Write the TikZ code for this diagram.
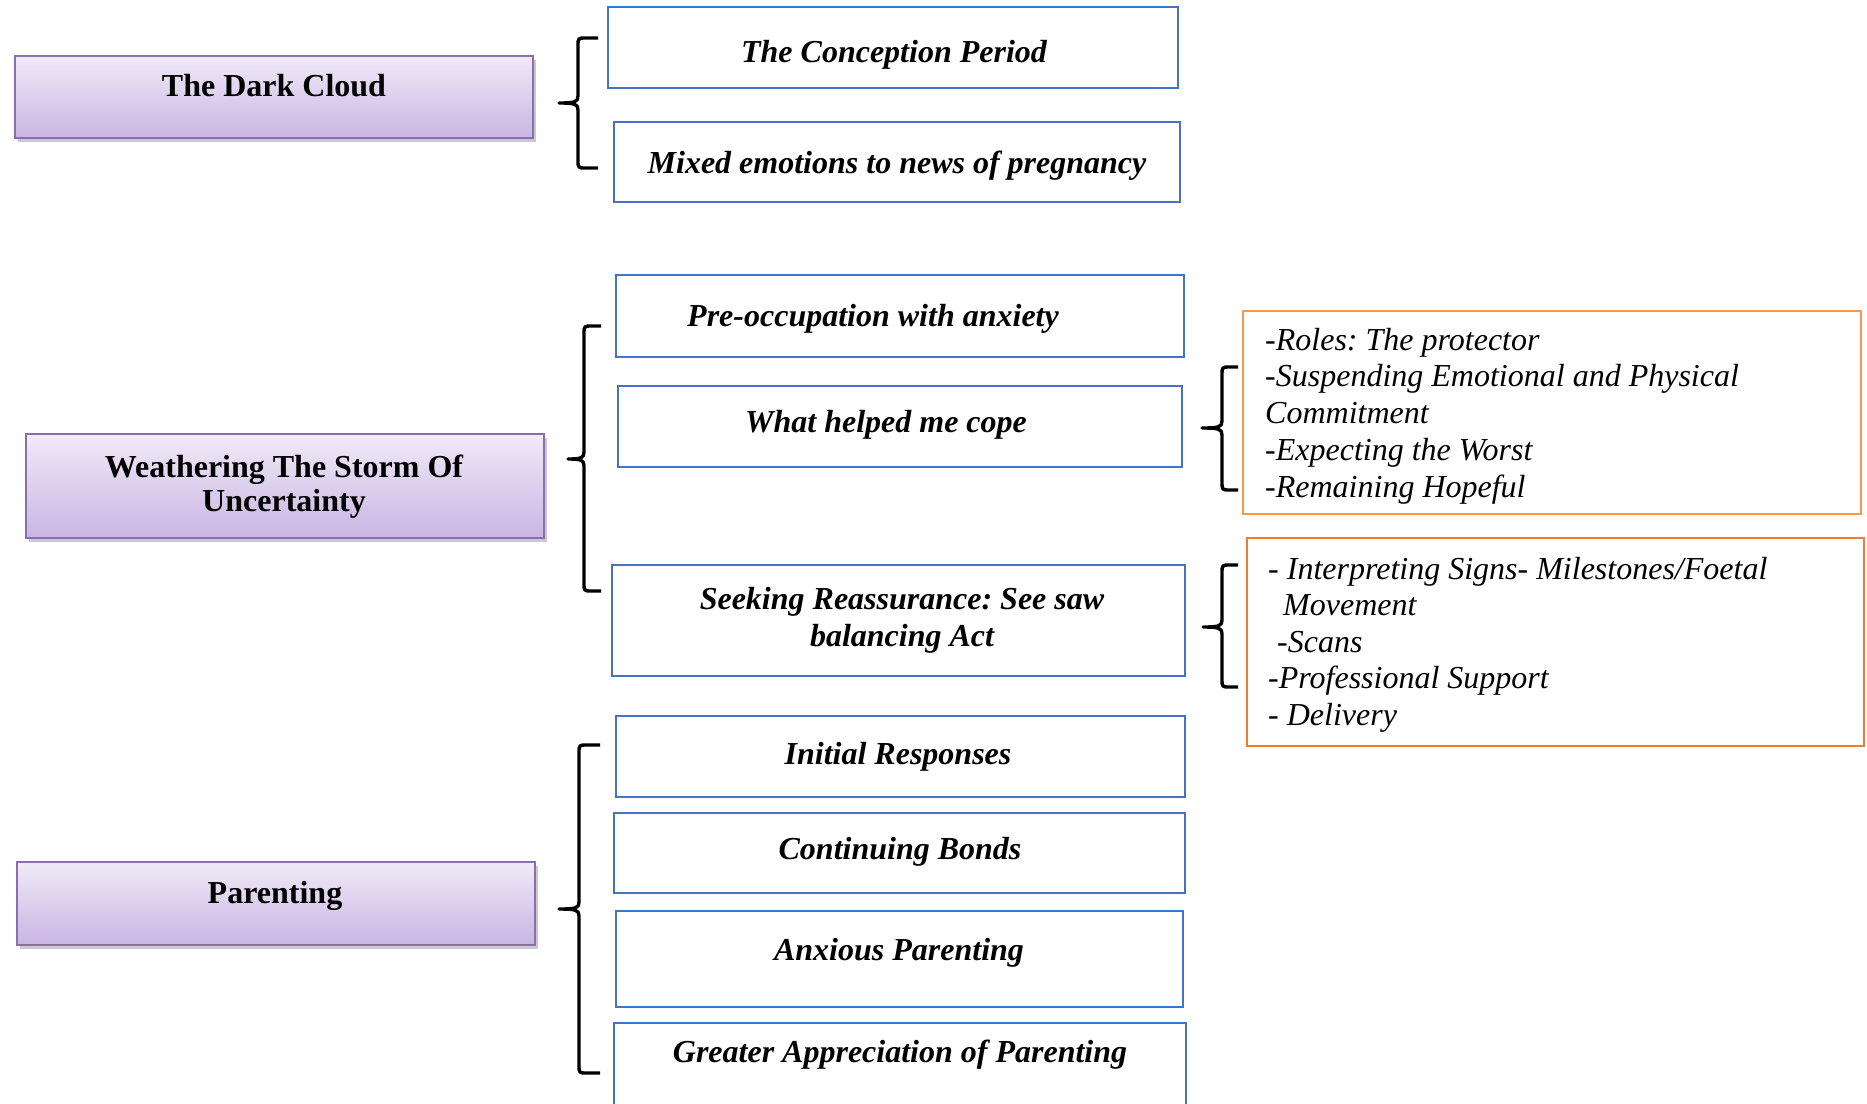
\documentclass[tikz,border=0pt]{standalone}
\usepackage{fontspec}
\setmainfont{Liberation Serif}
\frenchspacing
\usetikzlibrary{shadows}
\definecolor{bluebd}{HTML}{4472C4}
\definecolor{orangeA}{HTML}{F59C4C}
\definecolor{orangeB}{HTML}{ED7D31}
\definecolor{purpbd}{HTML}{8B6DB0}
\definecolor{purptop}{HTML}{F0EAF8}
\definecolor{purpbot}{HTML}{C9B5E3}
\tikzset{
  pbox/.style={draw=purpbd, line width=1.6pt, top color=purptop, bottom color=purpbot,
    drop shadow={shadow xshift=3pt, shadow yshift=-4pt, opacity=0.35, fill=black!60},
    inner sep=0pt, minimum width=518pt},
  bbox/.style={draw=bluebd, line width=2.6pt, fill=white, inner sep=0pt},
  obox/.style={line width=2.2pt, fill=white, inner sep=0pt},
  ptext/.style={font=\fontsize{32}{34}\selectfont\bfseries, align=center, inner sep=0pt, anchor=base},
  btext/.style={font=\fontsize{32}{37}\selectfont\bfseries\itshape, align=center, inner sep=0pt, anchor=base},
  otext/.style={font=\fontsize{32}{37}\selectfont\itshape, inner sep=0pt, anchor=base west},
  bracestyle/.style={line width=3.4pt, black, line cap=butt, line join=round}
}
\newcommand{\drawbrace}[6]{%
  \draw[bracestyle] (#1,#4) -- ({#2+8},#4) .. controls (#2,#4) .. (#2,{#4+8})
    -- (#2,{#5-7}) .. controls (#2,{#5-1}) and ({#2-3},#5) .. (#3,#5)
    .. controls ({#2-3},#5) and (#2,{#5+1}) .. (#2,{#5+7})
    -- (#2,{#6-8}) .. controls (#2,#6) .. ({#2+8},#6) -- (#1,#6);}
\begin{document}
\begin{tikzpicture}[x=1pt,y=-1pt]
\useasboundingbox (0,0) rectangle (1867,1103);
% purple theme boxes
\node[pbox, minimum height=82pt] (p1) at (274,97) {};
\node[ptext] (p1t) at (274,96) {The Dark Cloud};
\node[pbox, minimum height=104pt] (p2) at (285,486) {};
\node[ptext] (p2t) at (284,511) {Weathering The Storm Of\\Uncertainty};
\node[pbox, minimum height=83pt] (p3) at (276,903.5) {};
\node[ptext] (p3t) at (275,903) {Parenting};
% blue subtheme boxes
\node[bbox, minimum width=570pt, minimum height=81pt] (b1) at (893,47.5) {};
\node[btext] (b1t) at (894,62) {The Conception Period};
\node[bbox, minimum width=566pt, minimum height=80pt] (b2) at (897,162) {};
\node[btext] (b2t) at (897,173) {Mixed emotions to news of pregnancy};
\node[bbox, minimum width=568pt, minimum height=82pt] (b3) at (900,316) {};
\node[btext] (b3t) at (873,326) {Pre-occupation with anxiety};
\node[bbox, minimum width=564pt, minimum height=81pt] (b4) at (900,426.5) {};
\node[btext] (b4t) at (886,432) {What helped me cope};
\node[bbox, minimum width=573pt, minimum height=111pt] (b5) at (898.5,620.5) {};
\node[btext] (b5t) at (902,646) {Seeking Reassurance: See saw\\balancing Act};
\node[bbox, minimum width=569pt, minimum height=81pt] (b6) at (900.5,756.5) {};
\node[btext] (b6t) at (898,764) {Initial Responses};
\node[bbox, minimum width=571pt, minimum height=80pt] (b7) at (899.5,853) {};
\node[btext] (b7t) at (900,859) {Continuing Bonds};
\node[bbox, minimum width=567pt, minimum height=96pt] (b8) at (899.5,959) {};
\node[btext] (b8t) at (899,960) {Anxious Parenting};
\node[bbox, minimum width=572pt, minimum height=87pt] (b9) at (900,1066.5) {};
\node[btext] (b9t) at (900,1062) {Greater Appreciation of Parenting};
% orange detail boxes
\node[obox, draw=orangeA, minimum width=618pt, minimum height=203pt] (o1) at (1552,412.5) {};
\node[otext] (o1a) at (1265,350) {-Roles: The protector};
\node[otext] (o1b) at (1265,386.5) {-Suspending Emotional and Physical};
\node[otext] (o1c) at (1265,423) {Commitment};
\node[otext] (o1d) at (1265,460) {-Expecting the Worst};
\node[otext] (o1e) at (1265,497) {-Remaining Hopeful};
\node[obox, draw=orangeB, minimum width=617pt, minimum height=208pt] (o2) at (1555.5,642) {};
\node[otext] (o2a) at (1268,579) {- Interpreting Signs- Milestones/Foetal};
\node[otext] (o2b) at (1283,615.5) {Movement};
\node[otext] (o2c) at (1277,652) {-Scans};
\node[otext] (o2d) at (1268,688) {-Professional Support};
\node[otext] (o2e) at (1268,725) {- Delivery};
% braces
\drawbrace{598}{578}{559}{38}{103}{168}
\drawbrace{601}{584}{568}{326}{459}{591}
\drawbrace{600}{579}{559}{745}{909}{1073}
\drawbrace{1238}{1222}{1202}{367}{428}{490}
\drawbrace{1238}{1222}{1203}{565}{627}{687}
\end{tikzpicture}
\end{document}
